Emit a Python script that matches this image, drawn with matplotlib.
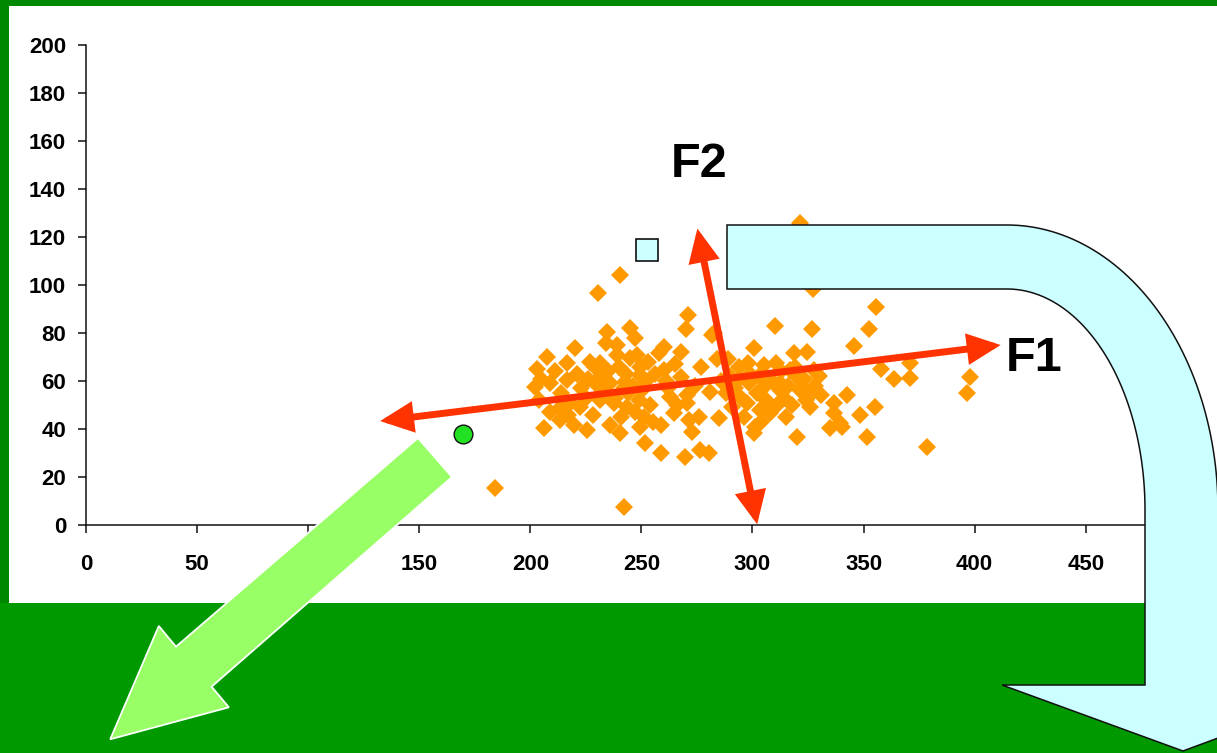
import numpy as np
import matplotlib.pyplot as plt
from matplotlib.patches import Rectangle, Polygon, FancyArrowPatch, ArrowStyle

plt.rcParams['font.family'] = ['Liberation Sans', 'DejaVu Sans']
plt.rcParams['font.weight'] = 'bold'

# scatter cloud (orange diamonds)
pts_x = [271, 270, 234.5, 245, 247, 234, 310, 327, 282.6, 300.6, 207.5, 220, 260, 268,
         318.6, 324.6, 284, 203, 216.5, 227, 231.5, 239, 245, 249.5, 257.8, 260, 268,
         293.8, 298, 305, 310.4, 317, 327.6, 202.3, 209, 216.5, 229.3, 236, 242.8, 249.5,
         281, 270.6, 263, 298.3, 305, 312.6, 322.4, 326, 203.7, 213.5, 222.5, 231.5, 237.5,
         243.5, 248.8, 264.5, 270.6, 297.6, 303.6, 308, 326, 284.8, 206, 213.5, 219.5,
         225.5, 236, 240.5, 249.5, 258.6, 271.3, 272.8, 300.6, 320, 251.8, 258.6, 269.8,
         276.6, 280.3, 335, 230.6,
         345.6, 352.4, 321.6, 312.6, 336.6, 342.6, 336.6, 339.6, 348.6, 351.7, 355.4, 358,
         363.7, 370.9, 370.9, 397.9, 396.7, 355, 378.7, 321.6, 327.3, 281.8, 320.1, 307.3,
         340.4, 184, 242, 240.5,
         205, 211, 214, 218, 221, 223, 226, 228, 232, 233, 235, 238, 240, 241, 243, 244,
         246, 247, 248, 250, 251, 252, 253, 254, 255, 256, 262, 265, 266, 274, 277, 286,
         288, 290, 291, 292, 294, 295, 296, 299, 302, 303, 304, 306, 309, 311, 313, 314,
         316, 319, 323, 324, 328, 330, 209, 217, 225, 229, 239, 242, 261, 276, 289, 301,
         315, 331, 318]
pts_y = [87.5, 81.5, 80.5, 82, 78, 76, 83, 81.5, 80, 73.6, 70, 73.6, 74.3, 72,
         71.5, 72, 69, 65, 67.4, 68, 67.4, 70.8, 69.4, 66, 71.5, 64.6, 61.8,
         66, 67.4, 66.7, 67.4, 64.6, 64.6, 57.6, 59, 60.4, 59, 59, 59.7, 62.5,
         55.5, 54.2, 53.5, 59, 57.6, 59, 57.6, 54.2, 52, 48.6, 49.3, 52, 50.7,
         49.3, 52, 46.5, 50.7, 50.7, 47.9, 46.5, 49.3, 44.4, 40.3, 43.8, 41.7,
         39.6, 41.7, 38.2, 40.9, 41.7, 43.8, 38.9, 38.2, 36.8, 34, 29.9, 28.5,
         31.3, 29.9, 40.3, 96.7,
         74.6, 81.5, 56.3, 56.3, 50.7, 54.2, 46.5, 42.4, 45.8, 36.8, 91, 64.9,
         60.7, 61.1, 67.4, 61.5, 54.9, 49, 32.6, 125.7, 98.2, 79.2, 61.8, 47.2,
         41, 15.4, 7.5, 104,
         61, 64, 55, 51, 63, 57, 61, 46, 62, 56, 64, 53, 66, 45, 63, 55,
         58, 47, 71, 56, 45, 60, 68, 50, 43, 63, 57, 67, 50, 58, 66, 60,
         55, 62, 49, 57, 61, 53, 45, 63, 55, 62, 43, 52, 60, 50, 64, 53,
         58, 66, 61, 52, 58, 62, 47, 46, 53, 66, 75, 57, 60, 45, 69, 41,
         45, 54, 50]

# special points
square_x, square_y = [252.3], [114.6]
circle_x, circle_y = [169.8], [37.9]

# principal axes arrows (data coords)
f1_start, f1_end = (132.4, 43.3), (411.7, 75.0)
f2_start, f2_end = (302.1, 0.3), (275.2, 123.5)

x_ticks = list(range(0, 501, 50))
y_ticks = list(range(0, 201, 20))

W, H = 1217, 753


def fxy(px, py):
    return (px / W, 1 - py / H)


fig = plt.figure(figsize=(W / 100, H / 100), dpi=100, facecolor='#009900')

# background panels
fig.add_artist(Rectangle(fxy(0, 6), 1, 6 / H, transform=fig.transFigure,
                         facecolor='#008800', edgecolor='none', zorder=-3))
fig.add_artist(Rectangle(fxy(0, 603), 9 / W, 603 / H, transform=fig.transFigure,
                         facecolor='#008800', edgecolor='none', zorder=-3))
fig.add_artist(Rectangle(fxy(9, 603), (W - 9) / W, 597 / H, transform=fig.transFigure,
                         facecolor='white', edgecolor='none', zorder=-2))

ax = fig.add_axes([86 / W, (H - 525) / H, (1196.8 - 86) / W, 480 / H])
ax.patch.set_visible(False)
ax.set_xlim(0, 500)
ax.set_ylim(0, 200)
ax.set_xticks(x_ticks)
ax.set_yticks(y_ticks)
for s in ['top', 'right']:
    ax.spines[s].set_visible(False)
for s in ['left', 'bottom']:
    ax.spines[s].set_linewidth(1.1)
    ax.spines[s].set_color('#111111')
ax.tick_params(direction='out', length=5.8, width=1.1, labelsize=16, colors='#111111')
ax.tick_params(axis='x', pad=15)
ax.tick_params(axis='y', pad=8.5)
for lbl in ax.get_xticklabels() + ax.get_yticklabels():
    lbl.set_fontweight('bold')
    lbl.set_color('black')

ax.plot(pts_x, pts_y, 'D', ms=8.8, color='#FF9900', mew=0, ls='none', zorder=3, clip_on=False)
ax.plot(square_x, square_y, 's', ms=15.5, mfc='#CCFFFF', mec='#111111', mew=1.2, zorder=4)
ax.plot(circle_x, circle_y, 'o', ms=13.5, mfc='#22E022', mec='#111111', mew=1.0, zorder=4)

style = ArrowStyle('<|-|>', head_length=16, head_width=7.5)
for a, b in [(f1_start, f1_end), (f2_start, f2_end)]:
    ax.add_patch(FancyArrowPatch(a, b, arrowstyle=style, mutation_scale=1, lw=5,
                                 color='#FF3300', shrinkA=0, shrinkB=0, zorder=5,
                                 joinstyle='miter', clip_on=False))

ax.text(263, 145, 'F2', fontsize=35, fontweight='bold', ha='left', va='baseline', zorder=6)
ax.text(414, 64.2, 'F1', fontsize=35, fontweight='bold', ha='left', va='baseline', zorder=6)

# big light-green arrow
green = [(418, 438), (452, 477), (211.6, 686.7), (228.9, 707.3), (110.2, 739.3),
         (158.8, 626), (176, 646.7)]
fig.add_artist(Polygon([fxy(*p) for p in green], closed=True, transform=fig.transFigure,
                       facecolor='#99FF66', edgecolor='white', lw=1.3, zorder=8))

# curved light-cyan arrow
cyan = [(727, 225), (1007, 225)]
t = np.linspace(np.pi / 2, 0, 60)
cyan += list(zip(1007 + 211 * np.cos(t), 510 - 285 * np.sin(t)))
cyan += [(1218, 685), (1361, 685), (1183, 751), (1002, 685), (1145, 685)]
t = np.linspace(0, np.pi / 2, 60)
cyan += list(zip(1007 + 138 * np.cos(t), 510 - 221 * np.sin(t)))
cyan += [(727, 289)]
fig.add_artist(Polygon([fxy(*p) for p in cyan], closed=True, transform=fig.transFigure,
                       facecolor='#CCFFFF', edgecolor='#111111', lw=1.1, zorder=8))

fig.savefig('out.png', dpi=100, facecolor=fig.get_facecolor())
